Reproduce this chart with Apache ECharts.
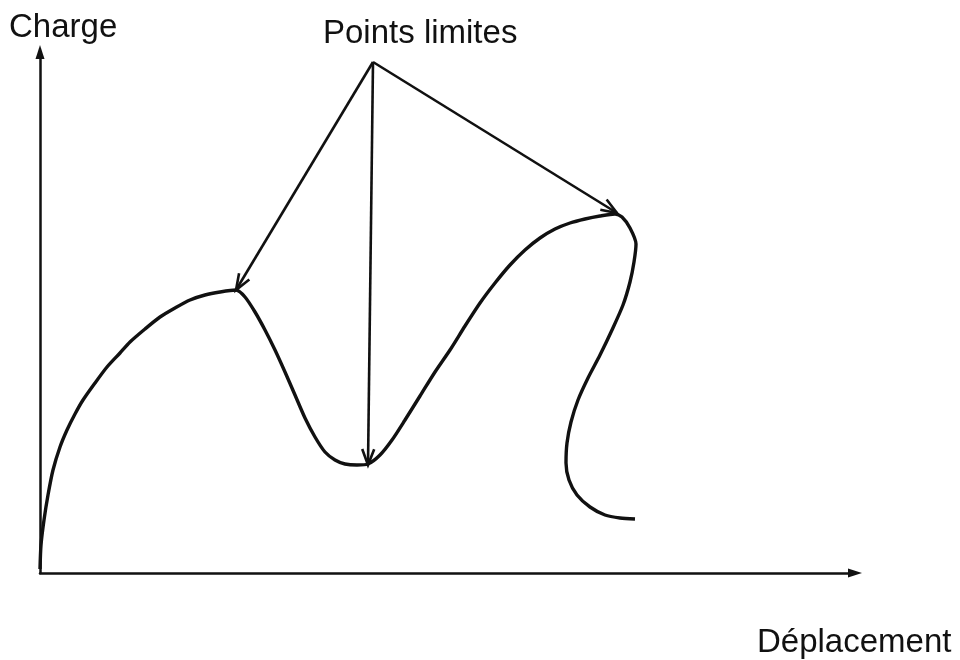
<!DOCTYPE html>
<html>
<head>
<meta charset="utf-8">
<script src="https://cdn.jsdelivr.net/npm/echarts@6/dist/echarts.min.js"></script>
<style>
  html, body { margin: 0; padding: 0; background: #fff; }
  #chart { width: 960px; height: 660px; }
</style>
</head>
<body>
<div id="chart"></div>
<script>
// Load–displacement path (déplacement, charge), in axis units
const curveX = [0, 1, 4, 8, 13, 20, 27, 35, 43, 55, 67, 80, 90, 105, 120, 135, 150, 165, 180, 196,
  205, 215, 225, 235, 245, 255, 265, 275, 285, 295, 305, 317, 328,
  340, 352, 365, 380, 395, 410, 425, 440, 455, 470, 485, 500, 515, 530, 545, 560, 575, 582, 590, 596,
  594, 590, 583, 572, 560, 548, 538, 531, 527, 526, 529, 537, 550, 565, 580, 595];
const curveY = [4, 28, 53, 78, 103, 126, 143, 159, 173, 190, 206, 220, 231, 244, 256, 265, 273, 278, 281, 283,
  276, 261, 243, 223, 201, 178, 155, 136, 121, 113, 109, 108, 109,
  118, 133, 153, 177, 201, 223, 247, 270, 290, 308, 323, 335, 344, 350, 354, 357, 359, 356, 345, 329,
  311, 291, 268, 243, 218, 195, 173, 151, 130, 110, 93, 78, 66, 58, 55, 54];

// Limit points (two maxima and one minimum) and the common origin of the pointer arrows
const limitX = [196, 328, 577];
const limitY = [283, 108, 360];
const labelOrigin = [333, 511];

// Texts
const yAxisTitle = 'Charge';
const xAxisTitle = 'Déplacement';
const pointsTitle = 'Points limites';

const curveData = curveX.map((x, i) => [x, curveY[i]]);
const limitData = limitX.map((x, i) => [x, limitY[i]]);

const ink = '#111';
const font = '"Liberation Sans", Arial, sans-serif';

const chart = echarts.init(document.getElementById('chart'), null, { renderer: 'canvas' });

const axisCommon = {
  type: 'value',
  splitLine: { show: false },
  axisTick: { show: false },
  axisLabel: { show: false },
  axisLine: {
    show: true,
    onZero: false,
    symbol: ['none', 'triangle'],
    symbolSize: [9, 14],
    lineStyle: { color: ink, width: 2.5 }
  }
};

chart.setOption({
  animation: false,
  backgroundColor: '#fff',
  grid: { left: 40, top: 52, width: 815, height: 521 },
  xAxis: Object.assign({}, axisCommon, { min: 0, max: 815 }),
  yAxis: Object.assign({}, axisCommon, { min: 0, max: 521 }),
  graphic: [
    { type: 'text', left: 9, top: 11,
      style: { text: yAxisTitle, font: '33px ' + font, fill: ink } },
    { type: 'text', left: 323, top: 17,
      style: { text: pointsTitle, font: '33px ' + font, fill: ink } },
    { type: 'text', left: 757, top: 626,
      style: { text: xAxisTitle, font: '33px ' + font, fill: ink } }
  ],
  series: [
    {
      type: 'line',
      data: curveData,
      smooth: 0.25,
      showSymbol: false,
      lineStyle: { color: ink, width: 3.4 },
      z: 3
    },
    {
      type: 'custom',
      clip: false,
      data: limitData,
      renderItem: function (params, api) {
        const s = api.coord(labelOrigin);
        const e = api.coord([api.value(0), api.value(1)]);
        const ang = Math.atan2(e[1] - s[1], e[0] - s[0]);
        const len = 17, spread = 0.36;
        const h1 = [e[0] - len * Math.cos(ang - spread), e[1] - len * Math.sin(ang - spread)];
        const h2 = [e[0] - len * Math.cos(ang + spread), e[1] - len * Math.sin(ang + spread)];
        const st = { stroke: ink, lineWidth: 2.6, fill: 'none' };
        return {
          type: 'group',
          children: [
            { type: 'line', shape: { x1: s[0], y1: s[1], x2: e[0], y2: e[1] }, style: st },
            { type: 'polyline', shape: { points: [h1, e, h2] }, style: st }
          ]
        };
      },
      z: 4
    }
  ]
});
</script>
</body>
</html>
